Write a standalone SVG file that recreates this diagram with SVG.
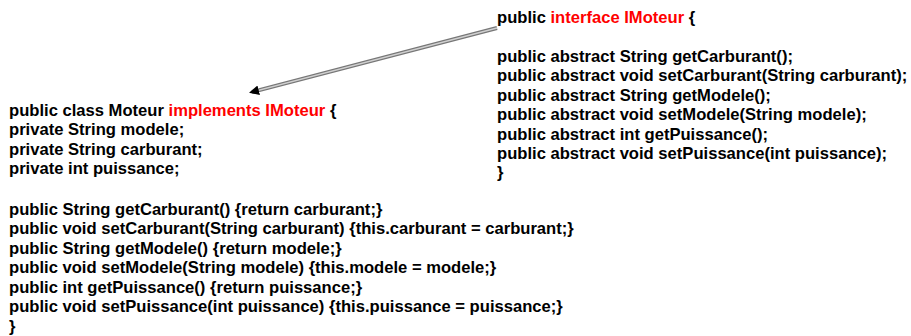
<svg xmlns="http://www.w3.org/2000/svg" width="911" height="336" viewBox="0 0 911 336">
<style>
text{font-family:"Liberation Sans",Arial,sans-serif;font-weight:bold;font-size:16.6px;fill:#000}
.r{fill:#ff0000}
</style>
<defs>
<marker id="ah" markerWidth="12" markerHeight="12" refX="9" refY="5" orient="auto" markerUnits="userSpaceOnUse">
<path d="M0,0 L10,5 L0,10 Z" fill="#000"/>
</marker>
</defs>
<rect width="911" height="336" fill="#fff"/>
<g id="connectors">
<line x1="497" y1="28" x2="252" y2="92" stroke="#777" stroke-width="4"/>
<line x1="497" y1="28" x2="250" y2="92.5" stroke="#d0d0d0" stroke-width="1.5" marker-end="url(#ah)"/>
</g>
<g id="interface">
<text x="497" y="23">public <tspan class="r">interface IMoteur</tspan> {</text>
<text x="497" y="62">public abstract String getCarburant();</text>
<text x="497" y="81">public abstract void setCarburant(String carburant);</text>
<text x="497" y="101">public abstract String getModele();</text>
<text x="497" y="120">public abstract void setModele(String modele);</text>
<text x="497" y="140">public abstract int getPuissance();</text>
<text x="497" y="159">public abstract void setPuissance(int puissance);</text>
<text x="497" y="178">}</text>
</g>
<g id="classe">
<text x="9" y="116">public class Moteur <tspan class="r">implements IMoteur</tspan> {</text>
<text x="9" y="135">private String modele;</text>
<text x="9" y="155">private String carburant;</text>
<text x="9" y="174">private int puissance;</text>
<text x="9" y="215">public String getCarburant() {return carburant;}</text>
<text x="9" y="234">public void setCarburant(String carburant) {this.carburant = carburant;}</text>
<text x="9" y="254">public String getModele() {return modele;}</text>
<text x="9" y="273">public void setModele(String modele) {this.modele = modele;}</text>
<text x="9" y="293">public int getPuissance() {return puissance;}</text>
<text x="9" y="312">public void setPuissance(int puissance) {this.puissance = puissance;}</text>
<text x="9" y="332">}</text>
</g>
</svg>
